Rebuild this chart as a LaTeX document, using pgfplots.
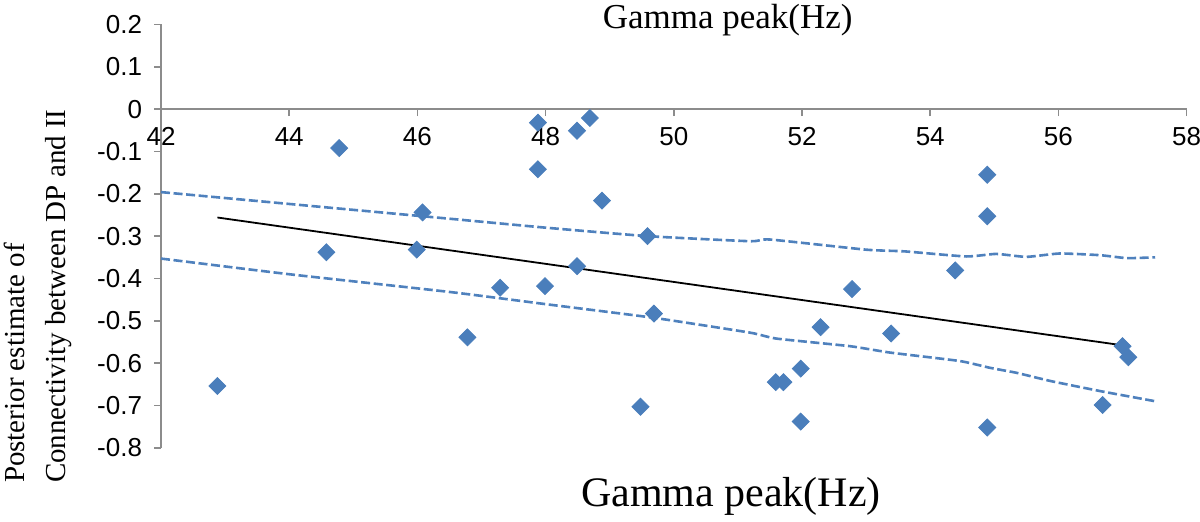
\documentclass[border=0pt]{standalone}
\usepackage{fontspec}
\setmainfont{Liberation Serif}
\newfontfamily\ticfont{Liberation Sans}
\usepackage{pgfplots}
\pgfplotsset{compat=1.18}
\definecolor{mkblue}{HTML}{4A7EBB}
\definecolor{dashblue}{HTML}{4F81BD}
\definecolor{axgray}{HTML}{8C8C8C}
\begin{document}
\begin{tikzpicture}
\begin{axis}[
  scale only axis, width=513pt, height=211.75pt,
  xmin=42, xmax=58, ymin=-0.8, ymax=0.2,
  axis x line*=middle, axis y line*=left,
  hide obscured x ticks=false, hide obscured y ticks=false,
  axis line style={axgray, line width=0.8pt},
  xtick={42,44,46,48,50,52,54,56,58},
  xticklabels={42,44,46,48,50,52,54,56,58},
  ytick={-0.8,-0.7,-0.6,-0.5,-0.4,-0.3,-0.2,-0.1,0,0.1,0.2},
  yticklabels={-0.8,-0.7,-0.6,-0.5,-0.4,-0.3,-0.2,-0.1,0,0.1,0.2},
  tick align=outside, major tick length=3.5pt,
  tick style={axgray, line width=0.8pt},
  xticklabel style={font=\ticfont\fontsize{13}{15}\selectfont, text=black, yshift=-2pt},
  yticklabel style={font=\ticfont\fontsize{13}{15}\selectfont, text=black, xshift=-2.5pt},
  clip=false,
]
\addplot[only marks, mark=square*, mark size=3pt,
  mark options={rotate=45, fill=mkblue, draw=mkblue}] coordinates {
  (44.78,-0.092) (46.08,-0.244) (44.58,-0.338) (45.99,-0.332) (42.88,-0.654)
  (47.88,-0.032) (48.49,-0.051) (48.69,-0.021) (47.88,-0.142) (48.88,-0.216)
  (49.59,-0.300) (48.49,-0.371) (47.29,-0.422) (47.99,-0.418) (49.69,-0.483)
  (46.78,-0.539) (49.48,-0.703)
  (54.89,-0.155) (54.89,-0.253) (54.39,-0.381) (52.78,-0.425) (52.29,-0.515)
  (53.39,-0.530) (51.98,-0.613) (51.59,-0.645) (51.71,-0.645) (51.98,-0.738)
  (54.89,-0.752)
  (57.00,-0.560) (57.09,-0.586) (56.69,-0.699)
};
\addplot[black, line width=0.9pt] coordinates {(42.88,-0.256) (57.1,-0.560)};
\addplot[dashblue, line width=1.3pt, dash pattern=on 4.5pt off 1.8pt, smooth, tension=0.3] coordinates {
  (42,-0.196) (44,-0.224) (46.51,-0.259) (48,-0.280) (49.59,-0.300) (51.19,-0.312)
  (51.5,-0.308) (53.0,-0.332) (53.6,-0.336) (54.56,-0.348) (55.03,-0.342)
  (55.5,-0.349) (56.02,-0.341) (56.65,-0.345) (57.07,-0.352) (57.51,-0.350)
};
\addplot[dashblue, line width=1.3pt, dash pattern=on 4.5pt off 1.8pt, smooth, tension=0.3] coordinates {
  (42,-0.353) (44,-0.390) (46.51,-0.432) (48.07,-0.462) (49.69,-0.493) (51.19,-0.528)
  (51.6,-0.542) (52.75,-0.560) (53.37,-0.575) (54.46,-0.595) (54.93,-0.611)
  (55.35,-0.623) (55.87,-0.642) (56.65,-0.666) (57.51,-0.690)
};
\node[font=\fontsize{17.5}{20}\selectfont] at (axis cs:50.84,0.2106) {Gamma peak(Hz)};
\node[font=\fontsize{21}{24}\selectfont] at (axis cs:50.89,-0.914) {Gamma peak(Hz)};
\node[rotate=90, anchor=west, align=left, inner sep=0pt,
  font=\fontsize{14.5}{20.5}\selectfont] at (axis cs:40.08,-0.884)
  {Posterior estimate of\\Connectivity between DP and II};
\coordinate (bl) at (axis cs:39.488,-0.9733);
\coordinate (tr) at (axis cs:58.209,0.2578);
\end{axis}
\pgfresetboundingbox
\path[use as bounding box] (bl) rectangle (tr);
\end{tikzpicture}
\end{document}
